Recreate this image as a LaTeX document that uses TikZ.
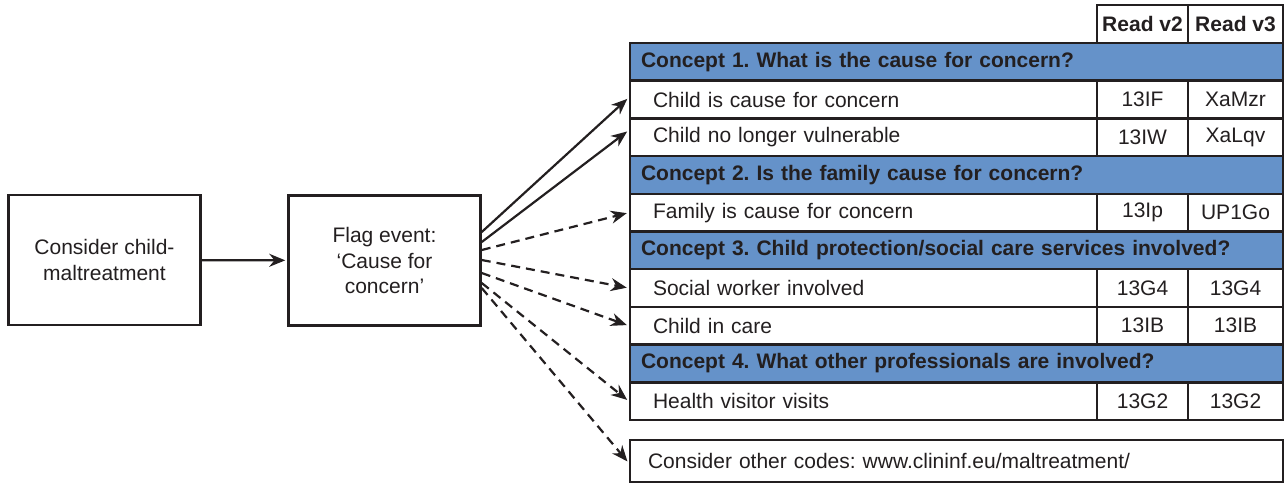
\documentclass[tikz,border=0pt]{standalone}
\usepackage{fontspec}
\setmainfont{Liberation Sans}
\usetikzlibrary{arrows.meta}
\definecolor{conceptblue}{RGB}{101,146,201}
\definecolor{inkblack}{RGB}{35,31,32}
\frenchspacing

\begin{document}
\begin{tikzpicture}[x=0.5pt,y=-0.5pt,font=\fontsize{10.5}{12.7}\selectfont,text=inkblack]
        \tikzstyle{stepbox}=[draw=inkblack,line width=1.25pt,align=center,inner sep=0pt,minimum width=96pt,minimum height=65pt]
        \tikzstyle{cell}=[draw=inkblack,line width=1.25pt,inner ysep=0pt,minimum height=18.85pt]
        \tikzstyle{concept}=[cell,fill=conceptblue,font=\fontsize{10.5}{12.7}\selectfont\bfseries,align=left,inner xsep=5.5pt,text width=315.5pt]
        \tikzstyle{item}=[cell,align=left,inner xsep=11.5pt,text width=210.5pt]
        \tikzstyle{codetwo}=[cell,inner xsep=0pt,minimum width=45.5pt]
        \tikzstyle{codethree}=[cell,inner xsep=0pt,minimum width=47.5pt]
        \tikzstyle{solidarrow}=[draw=inkblack,line width=1.1pt,-{Stealth[length=8pt,width=6.5pt]},shorten >=1pt]
        \tikzstyle{dasharrow}=[solidarrow,dash pattern=on 4.5pt off 3pt]
        \useasboundingbox (0,0) rectangle (1285,484);
       \begin{scope}
         % left boxes
         \node [stepbox] (consider) at (104.5,260) {Consider child-\\maltreatment};
         \node [stepbox] (flag) at (384.5,260.5) {Flag event:\\`Cause for\\concern'};
         % header
         \node [codetwo,minimum height=19pt,font=\fontsize{10.5}{12.7}\selectfont\bfseries] (hv2) at (1142.5,24) {Read v2};
         \node [codethree,minimum height=19pt,font=\fontsize{10.5}{12.7}\selectfont\bfseries] (hv3) at (1235.5,24) {Read v3};
         % concept 1
         \node [concept] (c1) at (956.5,61.85) {Concept 1. What is the cause for concern?};
         \node [item] (r1) at (863.5,99.55) {Child is cause for concern};
         \node [codetwo] (r1a) at (1142.5,99.55) {13IF};
         \node [codethree] (r1b) at (1235.5,99.55) {XaMzr};
         \node [item] (r2) at (863.5,137.25) {Child no longer vulnerable};
         \node [codetwo] (r2a) at (1142.5,137.25) {13IW};
         \node [codethree] (r2b) at (1235.5,137.25) {XaLqv};
         % concept 2
         \node [concept] (c2) at (956.5,174.95) {Concept 2. Is the family cause for concern?};
         \node [item] (r3) at (863.5,212.65) {Family is cause for concern};
         \node [codetwo] (r3a) at (1142.5,212.65) {13Ip};
         \node [codethree] (r3b) at (1235.5,212.65) {UP1Go};
         % concept 3
         \node [concept] (c3) at (956.5,250.35) {Concept 3. Child protection/social care services involved?};
         \node [item] (r4) at (863.5,288.05) {Social worker involved};
         \node [codetwo] (r4a) at (1142.5,288.05) {13G4};
         \node [codethree] (r4b) at (1235.5,288.05) {13G4};
         \node [item] (r5) at (863.5,325.75) {Child in care};
         \node [codetwo] (r5a) at (1142.5,325.75) {13IB};
         \node [codethree] (r5b) at (1235.5,325.75) {13IB};
         % concept 4
         \node [concept] (c4) at (956.5,363.45) {Concept 4. What other professionals are involved?};
         \node [item] (r6) at (863.5,401.15) {Health visitor visits};
         \node [codetwo] (r6a) at (1142.5,401.15) {13G2};
         \node [codethree] (r6b) at (1235.5,401.15) {13G2};
         % other codes
         \node [cell,minimum height=21pt,align=left,inner xsep=9pt,text width=308.5pt] (other) at (956.5,461) {Consider other codes: www.clininf.eu/maltreatment/};
         % connectors
         \path[solidarrow] (consider) -- (flag);
         \path[solidarrow] ([yshift=14.25pt]flag.east) -- ([yshift=1pt]r1.west);
         \path[solidarrow] ([yshift=9.25pt]flag.east) -- ([yshift=3.5pt]r2.west);
         \path[dasharrow] ([yshift=5.25pt]flag.east) -- (r3.west);
         \path[dasharrow] ([yshift=0.25pt]flag.east) -- (r4.west);
         \path[dasharrow] ([yshift=-6.25pt]flag.east) -- (r5.west);
         \path[dasharrow] ([yshift=-11.25pt]flag.east) -- (r6.west);
         \path[dasharrow] ([yshift=-13.75pt]flag.east) -- ([yshift=-1pt]other.west);
        \end{scope}
      \end{tikzpicture}
\end{document}
